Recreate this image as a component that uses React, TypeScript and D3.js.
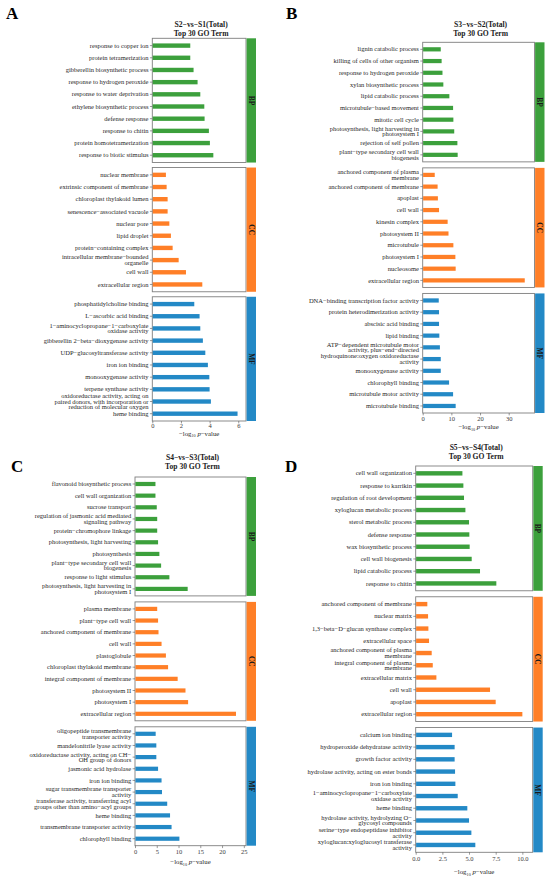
import * as d3 from "d3";
import React, { useEffect, useRef } from "react";

// ---- S2-vs-S1 ----
const aBpTerms = ["response to copper ion", "protein tetramerization", "gibberellin biosynthetic process", "response to hydrogen peroxide", "response to water deprivation", "ethylene biosynthetic process", "defense response", "response to chitin", "protein homotetramerization", "response to biotic stimulus"];
const aBpValues = [2.65, 2.65, 2.88, 3.16, 3.35, 3.63, 3.65, 3.95, 4.02, 4.26];
const aCcTerms = ["nuclear membrane", "extrinsic component of membrane", "chloroplast thylakoid lumen", "senescence−associated vacuole", "nuclear pore", "lipid droplet", "protein−containing complex", "intracellular membrane−bounded\norganelle", "cell wall", "extracellular region"];
const aCcValues = [0.95, 1.0, 1.07, 1.07, 1.19, 1.3, 1.42, 1.84, 2.35, 3.49];
const aMfTerms = ["phosphatidylcholine binding", "L−ascorbic acid binding", "1−aminocyclopropane−1−carboxylate\noxidase activity", "gibberellin 2−beta−dioxygenase activity", "UDP−glucosyltransferase activity", "iron ion binding", "monooxygenase activity", "terpene synthase activity", "oxidoreductase activity, acting on\npaired donors, with incorporation or\nreduction of molecular oxygen", "heme binding"];
const aMfValues = [2.93, 3.3, 3.35, 3.53, 3.7, 3.88, 3.98, 4.0, 4.09, 5.95];

// ---- S3-vs-S2 ----
const bBpTerms = ["lignin catabolic process", "killing of cells of other organism", "response to hydrogen peroxide", "xylan biosynthetic process", "lipid catabolic process", "microtubule−based movement", "mitotic cell cycle", "photosynthesis, light harvesting in\nphotosystem I", "rejection of self pollen", "plant−type secondary cell wall\nbiogenesis"];
const bBpValues = [6.3, 6.6, 6.9, 7.2, 9.3, 10.6, 10.7, 11.0, 12.1, 12.2];
const bCcTerms = ["anchored component of plasma\nmembrane", "anchored component of membrane", "apoplast", "cell wall", "kinesin complex", "photosystem II", "microtubule", "photosystem I", "nucleosome", "extracellular region"];
const bCcValues = [4.2, 5.2, 5.3, 5.7, 8.7, 9.0, 10.7, 11.4, 11.5, 35.6];
const bMfTerms = ["DNA−binding transcription factor activity", "protein heterodimerization activity", "abscisic acid binding", "lipid binding", "ATP−dependent microtubule motor\nactivity, plus−end−directed", "hydroquinone:oxygen oxidoreductase\nactivity", "monooxygenase activity", "chlorophyll binding", "microtubule motor activity", "microtubule binding"];
const bMfValues = [5.6, 5.7, 5.7, 5.8, 6.0, 6.3, 6.3, 9.2, 10.6, 11.5];

// ---- S4-vs-S3 ----
const cBpTerms = ["flavonoid biosynthetic process", "cell wall organization", "sucrose transport", "regulation of jasmonic acid mediated\nsignaling pathway", "protein−chromophore linkage", "photosynthesis, light harvesting", "photosynthesis", "plant−type secondary cell wall\nbiogenesis", "response to light stimulus", "photosynthesis, light harvesting in\nphotosystem I"];
const cBpValues = [4.7, 4.7, 5.0, 5.1, 5.1, 5.3, 5.6, 6.0, 7.9, 12.1];
const cCcTerms = ["plasma membrane", "plant−type cell wall", "anchored component of membrane", "cell wall", "plastoglobule", "chloroplast thylakoid membrane", "integral component of membrane", "photosystem II", "photosystem I", "extracellular region"];
const cCcValues = [5.1, 5.3, 5.4, 6.1, 7.1, 7.6, 9.8, 11.6, 12.2, 23.2];
const cMfTerms = ["oligopeptide transmembrane\ntransporter activity", "mandelonitrile lyase activity", "oxidoreductase activity, acting on CH−\nOH group of donors", "jasmonic acid hydrolase", "iron ion binding", "sugar transmembrane transporter\nactivity", "transferase activity, transferring acyl\ngroups other than amino−acyl groups", "heme binding", "transmembrane transporter activity", "chlorophyll binding"];
const cMfValues = [4.75, 4.9, 4.9, 5.3, 6.1, 6.2, 7.4, 8.05, 8.4, 10.2];

// ---- S5-vs-S4 ----
const dBpTerms = ["cell wall organization", "response to karrikin", "regulation of root development", "xyloglucan metabolic process", "sterol metabolic process", "defense response", "wax biosynthetic process", "cell wall biogenesis", "lipid catabolic process", "response to chitin"];
const dBpValues = [4.38, 4.47, 4.53, 4.66, 5.0, 5.03, 5.06, 5.25, 6.03, 7.56];
const dCcTerms = ["anchored component of membrane", "nuclear matrix", "1,3−beta−D−glucan synthase complex", "extracellular space", "anchored component of plasma\nmembrane", "integral component of plasma\nmembrane", "extracellular matrix", "cell wall", "apoplast", "extracellular region"];
const dCcValues = [1.09, 1.16, 1.19, 1.25, 1.5, 1.6, 1.94, 6.97, 7.5, 10.0];
const dMfTerms = ["calcium ion binding", "hydroperoxide dehydratase activity", "growth factor activity", "hydrolase activity, acting on ester bonds", "iron ion binding", "1−aminocyclopropane−1−carboxylate\noxidase activity", "heme binding", "hydrolase activity, hydrolyzing O−\nglycosyl compounds", "serine−type endopeptidase inhibitor\nactivity", "xyloglucan:xyloglucosyl transferase\nactivity"];
const dMfValues = [3.41, 3.65, 3.65, 3.69, 3.72, 3.94, 4.84, 5.0, 5.22, 5.59];

const titles = ["S2−vs−S1(Total)", "S3−vs−S2(Total)", "S4−vs−S3(Total)", "S5−vs−S4(Total)"];
const ontologies = ["BP", "CC", "MF"];
const colors = ["#3ca03c", "#ff7f27", "#2389c6"];

const FONT = "'Liberation Serif', 'Times New Roman', serif";

interface PanelSpec {
    letter: string;
    letterX: number;
    letterY: number;
    left: number;
    right: number;
    top: number;
    bottom: number;
    gap: number;
    xmax: number;
    ticks: number[];
    fmt: (v: number) => string;
    titleY: number;
    tickY: number;
    labelY: number;
    title: string;
    facets: { terms: string[]; values: number[] }[];
}

const panels: PanelSpec[] = [
    {
        letter: "A", letterX: 6, letterY: 19, left: 152.3, right: 246, top: 38.3, bottom: 421, gap: 5,
        xmax: 6.54, ticks: [0, 2, 4, 6], fmt: d3.format("d"), titleY: 24, tickY: 426, labelY: 433.5, title: titles[0],
        facets: [{ terms: aBpTerms, values: aBpValues }, { terms: aCcTerms, values: aCcValues }, { terms: aMfTerms, values: aMfValues }],
    },
    {
        letter: "B", letterX: 286, letterY: 19, left: 422.7, right: 534.5, top: 42.3, bottom: 413, gap: 6,
        xmax: 39.0, ticks: [0, 10, 20, 30], fmt: d3.format("d"), titleY: 24, tickY: 419, labelY: 427, title: titles[1],
        facets: [{ terms: bBpTerms, values: bBpValues }, { terms: bCcTerms, values: bCcValues }, { terms: bMfTerms, values: bMfValues }],
    },
    {
        letter: "C", letterX: 11, letterY: 472, left: 135, right: 246, top: 477, bottom: 845.7, gap: 6,
        xmax: 25.5, ticks: [0, 5, 10, 15, 20, 25], fmt: d3.format("d"), titleY: 457, tickY: 851.7, labelY: 861.7, title: titles[2],
        facets: [{ terms: cBpTerms, values: cBpValues }, { terms: cCcTerms, values: cCcValues }, { terms: cMfTerms, values: cMfValues }],
    },
    {
        letter: "D", letterX: 285, letterY: 472, left: 415.7, right: 532.7, top: 466, bottom: 852.3, gap: 6,
        xmax: 10.97, ticks: [0, 2.5, 5, 7.5, 10], fmt: d3.format(".1f"), titleY: 447, tickY: 859, labelY: 872, title: titles[3],
        facets: [{ terms: dBpTerms, values: dBpValues }, { terms: dCcTerms, values: dCcValues }, { terms: dMfTerms, values: dMfValues }],
    },
];

const App: React.FC = () => {
    const svgRef = useRef<SVGSVGElement>(null);

    useEffect(() => {
        const svg = d3.select(svgRef.current);
        svg.selectAll("*").remove();
        const fs = 6.5;
        const lh = 5.5;

        panels.forEach(p => {
            const g = svg.append("g");
            const x = d3.scaleLinear().domain([0, p.xmax]).range([p.left, p.right]);
            const fh = (p.bottom - p.top - 2 * p.gap) / 3;
            const cx = (p.left + p.right) / 2 + 2;

            // panel letter
            g.append("text")
                .attr("x", p.letterX).attr("y", p.letterY)
                .attr("font-family", FONT).attr("font-weight", "bold").attr("font-size", 17)
                .text(p.letter);

            // title, two lines
            [p.title, "Top 30 GO Term"].forEach((line, i) => {
                g.append("text")
                    .attr("x", cx).attr("y", p.titleY + i * 9.2 + 2.7)
                    .attr("text-anchor", "middle")
                    .attr("font-family", FONT).attr("font-weight", "bold").attr("font-size", 7.6)
                    .attr("fill", "#1a1a1a")
                    .text(line);
            });

            p.facets.forEach((f, i) => {
                const fTop = p.top + i * (fh + p.gap);
                const fBottom = fTop + fh;
                const y = d3.scalePoint<string>().domain(f.terms).range([fTop, fBottom]).padding(0.6);
                const barH = y.step() * 0.36;

                // panel box
                g.append("rect")
                    .attr("x", p.left).attr("y", fTop)
                    .attr("width", p.right - p.left).attr("height", fh)
                    .attr("fill", "white").attr("stroke", "#7f7f7f").attr("stroke-width", 0.9);

                // bars
                g.selectAll(null)
                    .data(f.terms)
                    .enter()
                    .append("rect")
                    .attr("x", p.left + 0.4)
                    .attr("y", t => (y(t) as number) - barH / 2)
                    .attr("width", (_, k) => x(f.values[k]) - p.left - 0.4)
                    .attr("height", barH)
                    .attr("fill", colors[i]);

                // y ticks
                g.selectAll(null)
                    .data(f.terms)
                    .enter()
                    .append("line")
                    .attr("x1", p.left - 2.4).attr("x2", p.left)
                    .attr("y1", t => y(t) as number).attr("y2", t => y(t) as number)
                    .attr("stroke", "#555").attr("stroke-width", 0.6);

                // y labels (wrapped)
                f.terms.forEach(t => {
                    const lines = t.split("\n");
                    const yc = y(t) as number;
                    const txt = g.append("text")
                        .attr("text-anchor", "end")
                        .attr("font-family", FONT).attr("font-size", fs)
                        .attr("fill", "#262626");
                    lines.forEach((ln, j) => {
                        txt.append("tspan")
                            .attr("x", p.left - 3.8)
                            .attr("y", yc + (j - (lines.length - 1) / 2) * lh + fs * 0.33)
                            .text(ln);
                    });
                });

                // strip
                g.append("rect")
                    .attr("x", p.right + 0.6).attr("y", fTop)
                    .attr("width", 9.4).attr("height", fh)
                    .attr("fill", colors[i]);
                g.append("text")
                    .attr("transform", `translate(${p.right + 5.3},${fTop + fh / 2}) rotate(90)`)
                    .attr("text-anchor", "middle").attr("dy", "0.35em")
                    .attr("font-family", FONT).attr("font-weight", "bold").attr("font-size", 7.4)
                    .attr("fill", "#1a1a1a")
                    .text(ontologies[i]);

                // x axis only under the last facet
                if (i === 2) {
                    const axis = g.append("g")
                        .attr("transform", `translate(0,${fBottom})`)
                        .call(d3.axisBottom(x).tickValues(p.ticks).tickSize(2.4).tickPadding(1.5).tickFormat(v => p.fmt(+v)));
                    axis.select(".domain").remove();
                    axis.selectAll(".tick line").attr("stroke", "#555").attr("stroke-width", 0.6);
                    axis.selectAll(".tick text")
                        .attr("font-family", FONT).attr("font-size", fs).attr("fill", "#3a3a3a")
                        .attr("y", null).attr("dy", null)
                        .attr("transform", `translate(0,${p.tickY - fBottom + fs * 0.35})`);

                    const lab = g.append("text")
                        .attr("x", (p.left + p.right) / 2).attr("y", p.labelY + 2.3)
                        .attr("text-anchor", "middle")
                        .attr("font-family", FONT).attr("font-size", 6.8).attr("fill", "#262626");
                    lab.append("tspan").text("−log");
                    lab.append("tspan").attr("font-size", 4.2).attr("dy", 1.6).text("10");
                    lab.append("tspan").attr("dy", -1.6).text(" ");
                    lab.append("tspan").attr("font-style", "italic").text("p");
                    lab.append("tspan").text("−value");
                }
            });
        });
    }, []);

    return (
        <svg
            ref={svgRef}
            width={550}
            height={879}
            style={{ position: "absolute", left: 0, top: 0, background: "white" }}
        />
    );
};

export default App;
